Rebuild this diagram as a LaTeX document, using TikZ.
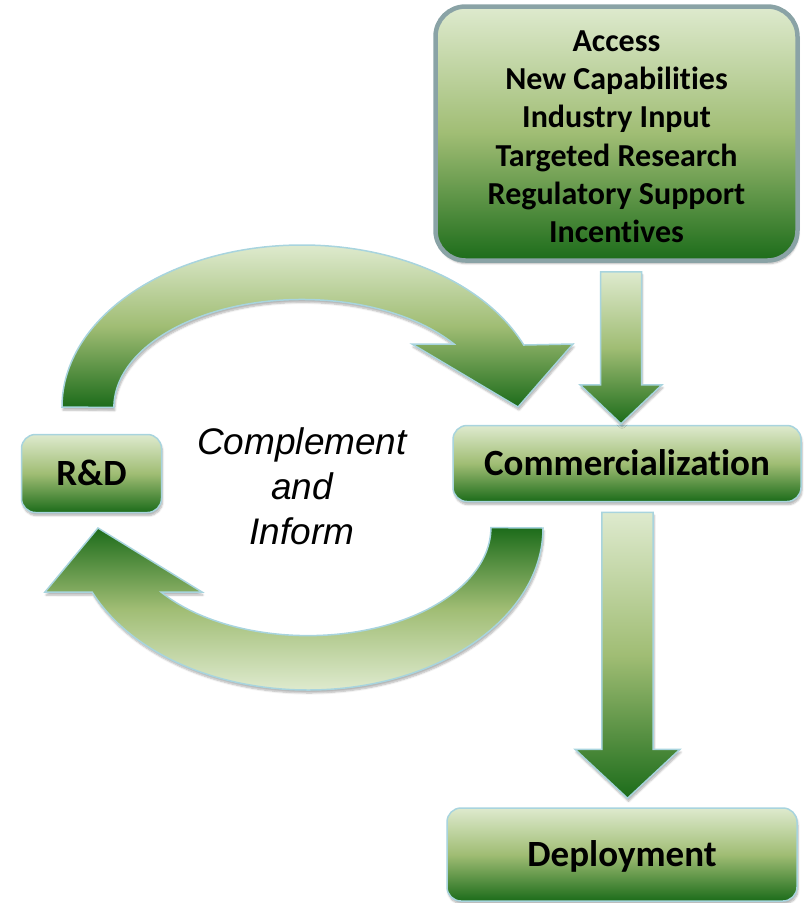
\documentclass[tikz,border=0pt]{standalone}
\usepackage{fontspec}
\setmainfont{Carlito}[Ligatures=NoCommon]
\newfontfamily\arialfont{Liberation Sans}
\usetikzlibrary{calc,shadows.blur}

\definecolor{glight}{RGB}{222,234,206}
\definecolor{gmid}{RGB}{160,189,116}
\definecolor{gdark}{RGB}{28,108,26}
\definecolor{edgeblue}{RGB}{168,212,222}
\definecolor{edgegray}{RGB}{138,163,166}

\tikzset{
  greendown/.style={top color=glight, bottom color=gdark, middle color=gmid},
  greenup/.style={top color=gdark, bottom color=glight, middle color=gmid},
  softshadow/.style={blur shadow={shadow xshift=1pt, shadow yshift=-3pt,
      shadow blur steps=6, shadow opacity=30}},
  stagebox/.style={greendown, draw=edgeblue, line width=1.5pt, rounded corners=14pt,
      softshadow, inner sep=0pt, text height=23pt, text depth=0pt,
      font=\bfseries\fontsize{37}{44}\selectfont},
  blockarrow/.style={draw=edgeblue, line width=1.5pt, softshadow},
}

% block arrow pointing down: start, tip, half shaft, half head, head length
\newcommand{\blockdown}[5]{%
  \draw[blockarrow, greendown] ($(#1)+(-#3,0)$) -- ($(#1)+(#3,0)$)
    -- ($(#2)+(#3,-#5)$) -- ($(#2)+(#4,-#5)$) -- (#2)
    -- ($(#2)+(-#4,-#5)$) -- ($(#2)+(-#3,-#5)$) -- cycle;}

\begin{document}
\begin{tikzpicture}[x=1pt, y=-1pt]
\useasboundingbox (0,0) rectangle (806,903);

% boxes
\node[greendown, draw=edgegray, line width=4.5pt, rounded corners=30pt, softshadow,
      minimum width=362pt, minimum height=254pt, align=center,
      font=\bfseries\fontsize{32}{38.3}\selectfont] (perks) at (616.5,133.5)
  {\rule{0pt}{27pt}Access\\New Capabilities\\Industry Input\\Targeted Research\\Regulatory Support\\Incentives};
\node[stagebox, minimum width=140pt, minimum height=78pt] (rd) at (91.5,473.5) {R\&D};
\node[stagebox, minimum width=348pt, minimum height=76pt] (comm) at (627,463.5) {Commercialization};
\node[stagebox, minimum width=350pt, minimum height=93pt] (deploy) at (622,854.5) {Deployment};

\node[font=\arialfont\itshape\fontsize{37}{45}\selectfont, align=center] (loop) at (302,486)
  {Complement\\and\\Inform};

% straight arrows
\coordinate (in1) at ($(perks.south)+(4.5,9)$);
\coordinate (tip1) at ($(comm.north)+(-6,-1)$);
\blockdown{in1}{tip1}{20.5}{41}{39}
\coordinate (out2) at ($(comm.south)+(0.5,10)$);
\coordinate (tip2) at ($(deploy.north)+(5.5,-9)$);
\blockdown{out2}{tip2}{25.7}{52.5}{49}

% curved arrows
\draw[blockarrow, greendown] (62,407)
  arc[start angle=180, end angle=337.5, x radius=240, y radius=162]
  -- (573,344) -- (518,407) -- (412,344) -- (454,344)
  arc[start angle=324, end angle=180, x radius=188, y radius=108] -- cycle;
\draw[blockarrow, greenup] (543,528)
  arc[start angle=0, end angle=156.7, x radius=235, y radius=162]
  -- (45,592) -- (98,528) -- (202,592) -- (161,592)
  arc[start angle=143.4, end angle=0, x radius=183, y radius=108] -- cycle;
\end{tikzpicture}
\end{document}
